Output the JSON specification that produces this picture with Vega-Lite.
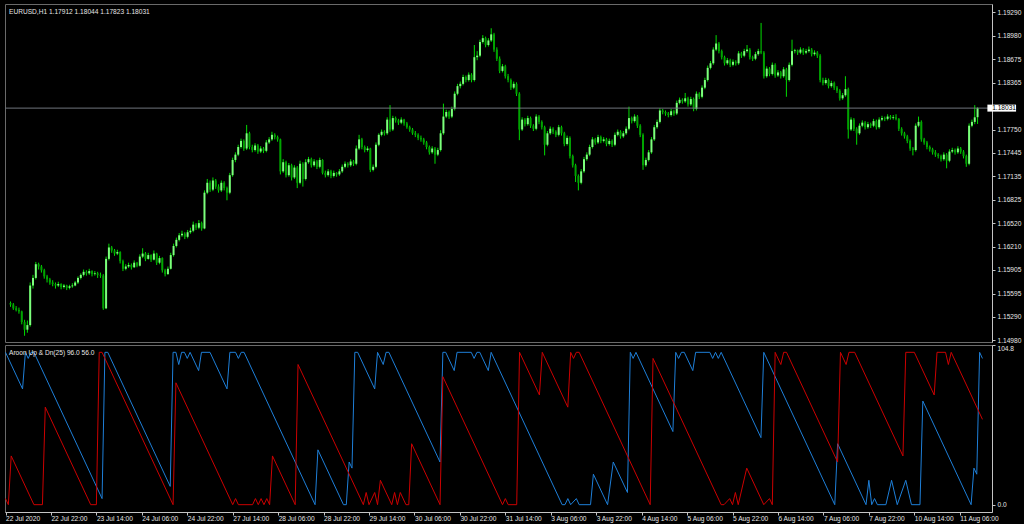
{
"$schema": "https://vega.github.io/schema/vega-lite/v6.json",
"background": "#000000",
"padding": {"left": 3, "top": 3, "right": 2, "bottom": 1},
"spacing": 3,
"bounds": "flush",
"config": {
 "view": {"stroke": "#6a6a6a", "strokeWidth": 1},
 "axis": {"labelFont": "Liberation Sans", "labelFontSize": 6.6, "labelColor": "#e6e6e6", "domainColor": "#c4c4c4", "tickColor": "#c4c4c4", "grid": false, "domainWidth": 1, "tickWidth": 1},
 "title": {"font": "Liberation Sans", "fontSize": 6.6, "fontWeight": "normal", "color": "#e6e6e6", "anchor": "start", "frame": "group", "offset": -12, "baseline": "top", "dx": 4}
},
"datasets": {
"candles": [
{"i":0,"o":1.1547,"h":1.1549,"l":1.1542,"c":1.1545},
{"i":1,"o":1.1545,"h":1.1547,"l":1.1538,"c":1.154},
{"i":2,"o":1.154,"h":1.1543,"l":1.1536,"c":1.1538},
{"i":3,"o":1.1538,"h":1.1541,"l":1.1533,"c":1.1536},
{"i":4,"o":1.1536,"h":1.1537,"l":1.1519,"c":1.1522},
{"i":5,"o":1.1522,"h":1.1525,"l":1.1504,"c":1.1512},
{"i":6,"o":1.1512,"h":1.1524,"l":1.1508,"c":1.1518},
{"i":7,"o":1.1518,"h":1.1574,"l":1.1516,"c":1.157},
{"i":8,"o":1.157,"h":1.1584,"l":1.1566,"c":1.158},
{"i":9,"o":1.158,"h":1.1601,"l":1.1578,"c":1.1598},
{"i":10,"o":1.1598,"h":1.16,"l":1.1591,"c":1.1595},
{"i":11,"o":1.1595,"h":1.1597,"l":1.1587,"c":1.159},
{"i":12,"o":1.159,"h":1.1592,"l":1.1579,"c":1.1582},
{"i":13,"o":1.1582,"h":1.1584,"l":1.1574,"c":1.1578},
{"i":14,"o":1.1578,"h":1.158,"l":1.1571,"c":1.1574},
{"i":15,"o":1.1574,"h":1.1577,"l":1.1569,"c":1.1572},
{"i":16,"o":1.1572,"h":1.1574,"l":1.1566,"c":1.157},
{"i":17,"o":1.157,"h":1.1575,"l":1.1568,"c":1.1572},
{"i":18,"o":1.1572,"h":1.1573,"l":1.1565,"c":1.1568},
{"i":19,"o":1.1568,"h":1.1572,"l":1.1566,"c":1.157},
{"i":20,"o":1.157,"h":1.1571,"l":1.1564,"c":1.1567},
{"i":21,"o":1.1567,"h":1.1571,"l":1.1565,"c":1.1569},
{"i":22,"o":1.1569,"h":1.1573,"l":1.1567,"c":1.157},
{"i":23,"o":1.157,"h":1.1576,"l":1.1569,"c":1.1574},
{"i":24,"o":1.1574,"h":1.1582,"l":1.1572,"c":1.158},
{"i":25,"o":1.158,"h":1.1586,"l":1.1578,"c":1.1584},
{"i":26,"o":1.1584,"h":1.1591,"l":1.1582,"c":1.1588},
{"i":27,"o":1.1588,"h":1.159,"l":1.1583,"c":1.1586},
{"i":28,"o":1.1586,"h":1.1592,"l":1.1584,"c":1.1589},
{"i":29,"o":1.1589,"h":1.159,"l":1.1582,"c":1.1585},
{"i":30,"o":1.1585,"h":1.1589,"l":1.1583,"c":1.1586},
{"i":31,"o":1.1586,"h":1.1588,"l":1.158,"c":1.1584},
{"i":32,"o":1.1584,"h":1.1587,"l":1.158,"c":1.1583},
{"i":33,"o":1.1583,"h":1.1585,"l":1.1538,"c":1.154},
{"i":34,"o":1.154,"h":1.1608,"l":1.1539,"c":1.1605},
{"i":35,"o":1.1605,"h":1.1625,"l":1.1603,"c":1.162},
{"i":36,"o":1.162,"h":1.1622,"l":1.1613,"c":1.1616},
{"i":37,"o":1.1616,"h":1.1618,"l":1.1609,"c":1.1612},
{"i":38,"o":1.1612,"h":1.1617,"l":1.161,"c":1.1614},
{"i":39,"o":1.1614,"h":1.1615,"l":1.1599,"c":1.1602},
{"i":40,"o":1.1602,"h":1.1604,"l":1.1589,"c":1.1592},
{"i":41,"o":1.1592,"h":1.1598,"l":1.159,"c":1.1595},
{"i":42,"o":1.1595,"h":1.16,"l":1.1593,"c":1.1597},
{"i":43,"o":1.1597,"h":1.1599,"l":1.1591,"c":1.1594},
{"i":44,"o":1.1594,"h":1.1603,"l":1.1593,"c":1.16},
{"i":45,"o":1.16,"h":1.1601,"l":1.1594,"c":1.1596},
{"i":46,"o":1.1596,"h":1.1611,"l":1.1595,"c":1.1608},
{"i":47,"o":1.1608,"h":1.1619,"l":1.1606,"c":1.1612},
{"i":48,"o":1.1612,"h":1.1614,"l":1.1602,"c":1.1605},
{"i":49,"o":1.1605,"h":1.1613,"l":1.1604,"c":1.161},
{"i":50,"o":1.161,"h":1.1611,"l":1.1601,"c":1.1604},
{"i":51,"o":1.1604,"h":1.1616,"l":1.1603,"c":1.1612},
{"i":52,"o":1.1612,"h":1.1613,"l":1.1597,"c":1.16},
{"i":53,"o":1.16,"h":1.1609,"l":1.1598,"c":1.1606},
{"i":54,"o":1.1606,"h":1.1607,"l":1.1587,"c":1.159},
{"i":55,"o":1.159,"h":1.1592,"l":1.1582,"c":1.1585},
{"i":56,"o":1.1585,"h":1.1595,"l":1.1584,"c":1.1592},
{"i":57,"o":1.1592,"h":1.1613,"l":1.1591,"c":1.161},
{"i":58,"o":1.161,"h":1.1625,"l":1.1608,"c":1.1622},
{"i":59,"o":1.1622,"h":1.1633,"l":1.162,"c":1.163},
{"i":60,"o":1.163,"h":1.1639,"l":1.1628,"c":1.1636},
{"i":61,"o":1.1636,"h":1.1642,"l":1.1634,"c":1.1638},
{"i":62,"o":1.1638,"h":1.164,"l":1.1631,"c":1.1634},
{"i":63,"o":1.1634,"h":1.1643,"l":1.1632,"c":1.164},
{"i":64,"o":1.164,"h":1.1646,"l":1.1638,"c":1.1642},
{"i":65,"o":1.1642,"h":1.1654,"l":1.164,"c":1.165},
{"i":66,"o":1.165,"h":1.1652,"l":1.1643,"c":1.1646},
{"i":67,"o":1.1646,"h":1.1656,"l":1.1644,"c":1.1652},
{"i":68,"o":1.1652,"h":1.1654,"l":1.1642,"c":1.1645},
{"i":69,"o":1.1645,"h":1.1695,"l":1.1644,"c":1.1692},
{"i":70,"o":1.1692,"h":1.171,"l":1.169,"c":1.1705},
{"i":71,"o":1.1705,"h":1.1708,"l":1.1693,"c":1.1696},
{"i":72,"o":1.1696,"h":1.1712,"l":1.1694,"c":1.1708},
{"i":73,"o":1.1708,"h":1.171,"l":1.1697,"c":1.17},
{"i":74,"o":1.17,"h":1.1703,"l":1.1692,"c":1.1695},
{"i":75,"o":1.1695,"h":1.1708,"l":1.1693,"c":1.1705},
{"i":76,"o":1.1705,"h":1.1707,"l":1.1695,"c":1.1698},
{"i":77,"o":1.1698,"h":1.17,"l":1.1682,"c":1.1692},
{"i":78,"o":1.1692,"h":1.1718,"l":1.169,"c":1.1715},
{"i":79,"o":1.1715,"h":1.1738,"l":1.1713,"c":1.1735},
{"i":80,"o":1.1735,"h":1.1745,"l":1.1732,"c":1.1742},
{"i":81,"o":1.1742,"h":1.1755,"l":1.174,"c":1.1752},
{"i":82,"o":1.1752,"h":1.1763,"l":1.175,"c":1.176},
{"i":83,"o":1.176,"h":1.1762,"l":1.1747,"c":1.175},
{"i":84,"o":1.175,"h":1.1781,"l":1.1748,"c":1.177},
{"i":85,"o":1.177,"h":1.1772,"l":1.1749,"c":1.1752},
{"i":86,"o":1.1752,"h":1.1755,"l":1.1745,"c":1.1748},
{"i":87,"o":1.1748,"h":1.1757,"l":1.1746,"c":1.1754},
{"i":88,"o":1.1754,"h":1.1756,"l":1.1743,"c":1.1746},
{"i":89,"o":1.1746,"h":1.1753,"l":1.1744,"c":1.175},
{"i":90,"o":1.175,"h":1.1752,"l":1.1744,"c":1.1747},
{"i":91,"o":1.1747,"h":1.1761,"l":1.1745,"c":1.1758},
{"i":92,"o":1.1758,"h":1.1765,"l":1.1756,"c":1.1762},
{"i":93,"o":1.1762,"h":1.1772,"l":1.176,"c":1.1768},
{"i":94,"o":1.1768,"h":1.177,"l":1.1762,"c":1.1765},
{"i":95,"o":1.1765,"h":1.1767,"l":1.1759,"c":1.1762},
{"i":96,"o":1.1762,"h":1.1763,"l":1.1716,"c":1.172},
{"i":97,"o":1.172,"h":1.1736,"l":1.1718,"c":1.1732},
{"i":98,"o":1.1732,"h":1.1734,"l":1.1712,"c":1.1715},
{"i":99,"o":1.1715,"h":1.1731,"l":1.1713,"c":1.1728},
{"i":100,"o":1.1728,"h":1.173,"l":1.1708,"c":1.1712},
{"i":101,"o":1.1712,"h":1.1728,"l":1.171,"c":1.1725},
{"i":102,"o":1.1725,"h":1.1727,"l":1.1698,"c":1.1705},
{"i":103,"o":1.1705,"h":1.1734,"l":1.1703,"c":1.173},
{"i":104,"o":1.173,"h":1.1732,"l":1.17,"c":1.171},
{"i":105,"o":1.171,"h":1.1736,"l":1.1708,"c":1.1732},
{"i":106,"o":1.1732,"h":1.1739,"l":1.173,"c":1.1736},
{"i":107,"o":1.1736,"h":1.1738,"l":1.1725,"c":1.1728},
{"i":108,"o":1.1728,"h":1.1736,"l":1.1726,"c":1.1733},
{"i":109,"o":1.1733,"h":1.1735,"l":1.1723,"c":1.1726},
{"i":110,"o":1.1726,"h":1.1738,"l":1.1724,"c":1.1735},
{"i":111,"o":1.1735,"h":1.1736,"l":1.1716,"c":1.1718},
{"i":112,"o":1.1718,"h":1.1721,"l":1.1712,"c":1.1715},
{"i":113,"o":1.1715,"h":1.1723,"l":1.1713,"c":1.172},
{"i":114,"o":1.172,"h":1.1722,"l":1.1711,"c":1.1714},
{"i":115,"o":1.1714,"h":1.1721,"l":1.1712,"c":1.1718},
{"i":116,"o":1.1718,"h":1.1719,"l":1.1713,"c":1.1716},
{"i":117,"o":1.1716,"h":1.1723,"l":1.1714,"c":1.172},
{"i":118,"o":1.172,"h":1.1729,"l":1.1718,"c":1.1726},
{"i":119,"o":1.1726,"h":1.1733,"l":1.1724,"c":1.173},
{"i":120,"o":1.173,"h":1.1732,"l":1.1725,"c":1.1728},
{"i":121,"o":1.1728,"h":1.1736,"l":1.1726,"c":1.1733},
{"i":122,"o":1.1733,"h":1.1735,"l":1.1727,"c":1.173},
{"i":123,"o":1.173,"h":1.1754,"l":1.1728,"c":1.175},
{"i":124,"o":1.175,"h":1.1768,"l":1.1748,"c":1.1762},
{"i":125,"o":1.1762,"h":1.1764,"l":1.1749,"c":1.1752},
{"i":126,"o":1.1752,"h":1.1754,"l":1.1745,"c":1.1748},
{"i":127,"o":1.1748,"h":1.1753,"l":1.1746,"c":1.175},
{"i":128,"o":1.175,"h":1.1751,"l":1.1719,"c":1.1722},
{"i":129,"o":1.1722,"h":1.1729,"l":1.172,"c":1.1726},
{"i":130,"o":1.1726,"h":1.1758,"l":1.1724,"c":1.1755},
{"i":131,"o":1.1755,"h":1.177,"l":1.1753,"c":1.1768},
{"i":132,"o":1.1768,"h":1.1775,"l":1.1766,"c":1.1772},
{"i":133,"o":1.1772,"h":1.1774,"l":1.1767,"c":1.177},
{"i":134,"o":1.177,"h":1.1791,"l":1.1768,"c":1.1788},
{"i":135,"o":1.1788,"h":1.1807,"l":1.1772,"c":1.1775},
{"i":136,"o":1.1775,"h":1.1793,"l":1.1773,"c":1.179},
{"i":137,"o":1.179,"h":1.1792,"l":1.1784,"c":1.1787},
{"i":138,"o":1.1787,"h":1.1789,"l":1.1781,"c":1.1784},
{"i":139,"o":1.1784,"h":1.1791,"l":1.1782,"c":1.1788},
{"i":140,"o":1.1788,"h":1.1789,"l":1.178,"c":1.1783},
{"i":141,"o":1.1783,"h":1.1785,"l":1.1776,"c":1.1778},
{"i":142,"o":1.1778,"h":1.178,"l":1.1772,"c":1.1775},
{"i":143,"o":1.1775,"h":1.1777,"l":1.1768,"c":1.177},
{"i":144,"o":1.177,"h":1.1773,"l":1.1765,"c":1.1768},
{"i":145,"o":1.1768,"h":1.177,"l":1.1761,"c":1.1764},
{"i":146,"o":1.1764,"h":1.1767,"l":1.1759,"c":1.1762},
{"i":147,"o":1.1762,"h":1.1764,"l":1.1755,"c":1.1758},
{"i":148,"o":1.1758,"h":1.176,"l":1.1749,"c":1.1752},
{"i":149,"o":1.1752,"h":1.1754,"l":1.1742,"c":1.1745},
{"i":150,"o":1.1745,"h":1.1753,"l":1.1743,"c":1.175},
{"i":151,"o":1.175,"h":1.1752,"l":1.173,"c":1.1742},
{"i":152,"o":1.1742,"h":1.1751,"l":1.174,"c":1.1748},
{"i":153,"o":1.1748,"h":1.1774,"l":1.1746,"c":1.177},
{"i":154,"o":1.177,"h":1.1809,"l":1.1768,"c":1.1792},
{"i":155,"o":1.1792,"h":1.1801,"l":1.179,"c":1.1798},
{"i":156,"o":1.1798,"h":1.18,"l":1.1789,"c":1.1792},
{"i":157,"o":1.1792,"h":1.1805,"l":1.179,"c":1.1802},
{"i":158,"o":1.1802,"h":1.1825,"l":1.18,"c":1.1822},
{"i":159,"o":1.1822,"h":1.1835,"l":1.182,"c":1.1832},
{"i":160,"o":1.1832,"h":1.1838,"l":1.1829,"c":1.1835},
{"i":161,"o":1.1835,"h":1.1847,"l":1.1833,"c":1.1844},
{"i":162,"o":1.1844,"h":1.1846,"l":1.1837,"c":1.184},
{"i":163,"o":1.184,"h":1.185,"l":1.1838,"c":1.1847},
{"i":164,"o":1.1847,"h":1.1849,"l":1.1837,"c":1.184},
{"i":165,"o":1.184,"h":1.1886,"l":1.1838,"c":1.187},
{"i":166,"o":1.187,"h":1.1878,"l":1.1866,"c":1.1872},
{"i":167,"o":1.1872,"h":1.1893,"l":1.187,"c":1.189},
{"i":168,"o":1.189,"h":1.1899,"l":1.1888,"c":1.1895},
{"i":169,"o":1.1895,"h":1.1897,"l":1.1883,"c":1.1886},
{"i":170,"o":1.1886,"h":1.1895,"l":1.1884,"c":1.1892},
{"i":171,"o":1.1892,"h":1.1908,"l":1.189,"c":1.19},
{"i":172,"o":1.19,"h":1.1902,"l":1.1877,"c":1.188},
{"i":173,"o":1.188,"h":1.1883,"l":1.1865,"c":1.1868},
{"i":174,"o":1.1868,"h":1.1871,"l":1.1849,"c":1.1852},
{"i":175,"o":1.1852,"h":1.1861,"l":1.185,"c":1.1858},
{"i":176,"o":1.1858,"h":1.186,"l":1.1842,"c":1.1845},
{"i":177,"o":1.1845,"h":1.1848,"l":1.1837,"c":1.184},
{"i":178,"o":1.184,"h":1.1842,"l":1.1827,"c":1.183},
{"i":179,"o":1.183,"h":1.1838,"l":1.1828,"c":1.1835},
{"i":180,"o":1.1835,"h":1.1837,"l":1.1819,"c":1.1822},
{"i":181,"o":1.1822,"h":1.1824,"l":1.1761,"c":1.1775},
{"i":182,"o":1.1775,"h":1.1791,"l":1.1773,"c":1.1788},
{"i":183,"o":1.1788,"h":1.179,"l":1.1779,"c":1.1782},
{"i":184,"o":1.1782,"h":1.1793,"l":1.178,"c":1.179},
{"i":185,"o":1.179,"h":1.1792,"l":1.1777,"c":1.178},
{"i":186,"o":1.178,"h":1.1782,"l":1.1773,"c":1.1776},
{"i":187,"o":1.1776,"h":1.1795,"l":1.1774,"c":1.1792},
{"i":188,"o":1.1792,"h":1.1794,"l":1.1782,"c":1.1785},
{"i":189,"o":1.1785,"h":1.1787,"l":1.1775,"c":1.1778},
{"i":190,"o":1.1778,"h":1.178,"l":1.1741,"c":1.1755},
{"i":191,"o":1.1755,"h":1.1773,"l":1.1753,"c":1.177},
{"i":192,"o":1.177,"h":1.1779,"l":1.1768,"c":1.1776},
{"i":193,"o":1.1776,"h":1.1778,"l":1.1769,"c":1.1772},
{"i":194,"o":1.1772,"h":1.1774,"l":1.1765,"c":1.1768},
{"i":195,"o":1.1768,"h":1.1781,"l":1.1766,"c":1.1778},
{"i":196,"o":1.1778,"h":1.178,"l":1.1767,"c":1.177},
{"i":197,"o":1.177,"h":1.1772,"l":1.1753,"c":1.1756},
{"i":198,"o":1.1756,"h":1.1767,"l":1.1754,"c":1.1764},
{"i":199,"o":1.1764,"h":1.1766,"l":1.1737,"c":1.174},
{"i":200,"o":1.174,"h":1.1742,"l":1.1725,"c":1.1728},
{"i":201,"o":1.1728,"h":1.173,"l":1.1706,"c":1.1714},
{"i":202,"o":1.1714,"h":1.1716,"l":1.1695,"c":1.1705},
{"i":203,"o":1.1705,"h":1.1723,"l":1.1703,"c":1.172},
{"i":204,"o":1.172,"h":1.1739,"l":1.1718,"c":1.1736},
{"i":205,"o":1.1736,"h":1.1745,"l":1.1734,"c":1.1742},
{"i":206,"o":1.1742,"h":1.1755,"l":1.174,"c":1.1752},
{"i":207,"o":1.1752,"h":1.1765,"l":1.175,"c":1.1762},
{"i":208,"o":1.1762,"h":1.1764,"l":1.1755,"c":1.1758},
{"i":209,"o":1.1758,"h":1.1768,"l":1.1756,"c":1.1765},
{"i":210,"o":1.1765,"h":1.1767,"l":1.1757,"c":1.176},
{"i":211,"o":1.176,"h":1.1765,"l":1.1758,"c":1.1762},
{"i":212,"o":1.1762,"h":1.1764,"l":1.1753,"c":1.1756},
{"i":213,"o":1.1756,"h":1.1763,"l":1.1754,"c":1.176},
{"i":214,"o":1.176,"h":1.1762,"l":1.1752,"c":1.1755},
{"i":215,"o":1.1755,"h":1.1771,"l":1.1753,"c":1.1768},
{"i":216,"o":1.1768,"h":1.1775,"l":1.1766,"c":1.1772},
{"i":217,"o":1.1772,"h":1.1774,"l":1.1763,"c":1.1766},
{"i":218,"o":1.1766,"h":1.1773,"l":1.1764,"c":1.177},
{"i":219,"o":1.177,"h":1.1779,"l":1.1768,"c":1.1776},
{"i":220,"o":1.1776,"h":1.1805,"l":1.1774,"c":1.179},
{"i":221,"o":1.179,"h":1.1792,"l":1.1783,"c":1.1786},
{"i":222,"o":1.1786,"h":1.1795,"l":1.1784,"c":1.1792},
{"i":223,"o":1.1792,"h":1.1794,"l":1.1777,"c":1.178},
{"i":224,"o":1.178,"h":1.1782,"l":1.1765,"c":1.1768},
{"i":225,"o":1.1768,"h":1.177,"l":1.1722,"c":1.1728},
{"i":226,"o":1.1728,"h":1.1738,"l":1.1726,"c":1.1735},
{"i":227,"o":1.1735,"h":1.1748,"l":1.1733,"c":1.1745},
{"i":228,"o":1.1745,"h":1.1765,"l":1.1743,"c":1.1762},
{"i":229,"o":1.1762,"h":1.1781,"l":1.176,"c":1.1778},
{"i":230,"o":1.1778,"h":1.1788,"l":1.1776,"c":1.1785},
{"i":231,"o":1.1785,"h":1.1803,"l":1.1783,"c":1.18},
{"i":232,"o":1.18,"h":1.1802,"l":1.1795,"c":1.1798},
{"i":233,"o":1.1798,"h":1.18,"l":1.1793,"c":1.1796},
{"i":234,"o":1.1796,"h":1.1798,"l":1.1791,"c":1.1794},
{"i":235,"o":1.1794,"h":1.1802,"l":1.1792,"c":1.1799},
{"i":236,"o":1.1799,"h":1.1801,"l":1.1793,"c":1.1796},
{"i":237,"o":1.1796,"h":1.1813,"l":1.1794,"c":1.181},
{"i":238,"o":1.181,"h":1.1817,"l":1.1808,"c":1.1814},
{"i":239,"o":1.1814,"h":1.1816,"l":1.1809,"c":1.1812},
{"i":240,"o":1.1812,"h":1.1823,"l":1.181,"c":1.1816},
{"i":241,"o":1.1816,"h":1.1818,"l":1.1805,"c":1.1808},
{"i":242,"o":1.1808,"h":1.1818,"l":1.1806,"c":1.1815},
{"i":243,"o":1.1815,"h":1.1817,"l":1.1799,"c":1.1802},
{"i":244,"o":1.1802,"h":1.1825,"l":1.18,"c":1.1822},
{"i":245,"o":1.1822,"h":1.1824,"l":1.1815,"c":1.1818},
{"i":246,"o":1.1818,"h":1.1833,"l":1.1816,"c":1.183},
{"i":247,"o":1.183,"h":1.1843,"l":1.1828,"c":1.184},
{"i":248,"o":1.184,"h":1.1859,"l":1.1838,"c":1.1856},
{"i":249,"o":1.1856,"h":1.1865,"l":1.1854,"c":1.1862},
{"i":250,"o":1.1862,"h":1.1883,"l":1.186,"c":1.188},
{"i":251,"o":1.188,"h":1.1899,"l":1.1878,"c":1.1888},
{"i":252,"o":1.1888,"h":1.189,"l":1.1875,"c":1.1878},
{"i":253,"o":1.1878,"h":1.188,"l":1.1867,"c":1.187},
{"i":254,"o":1.187,"h":1.1872,"l":1.1859,"c":1.1862},
{"i":255,"o":1.1862,"h":1.1869,"l":1.186,"c":1.1866},
{"i":256,"o":1.1866,"h":1.1868,"l":1.1857,"c":1.186},
{"i":257,"o":1.186,"h":1.1867,"l":1.1858,"c":1.1864},
{"i":258,"o":1.1864,"h":1.1866,"l":1.1859,"c":1.1862},
{"i":259,"o":1.1862,"h":1.1878,"l":1.186,"c":1.1875},
{"i":260,"o":1.1875,"h":1.1877,"l":1.1869,"c":1.1872},
{"i":261,"o":1.1872,"h":1.1881,"l":1.187,"c":1.1878},
{"i":262,"o":1.1878,"h":1.1886,"l":1.1876,"c":1.188},
{"i":263,"o":1.188,"h":1.1882,"l":1.1867,"c":1.187},
{"i":264,"o":1.187,"h":1.1872,"l":1.1865,"c":1.1868},
{"i":265,"o":1.1868,"h":1.1877,"l":1.1866,"c":1.1874},
{"i":266,"o":1.1874,"h":1.1881,"l":1.1872,"c":1.1878},
{"i":267,"o":1.1878,"h":1.1915,"l":1.1874,"c":1.1876},
{"i":268,"o":1.1876,"h":1.1878,"l":1.1842,"c":1.1845},
{"i":269,"o":1.1845,"h":1.1858,"l":1.1843,"c":1.1855},
{"i":270,"o":1.1855,"h":1.1857,"l":1.1845,"c":1.1848},
{"i":271,"o":1.1848,"h":1.1863,"l":1.1846,"c":1.186},
{"i":272,"o":1.186,"h":1.1862,"l":1.1843,"c":1.1846},
{"i":273,"o":1.1846,"h":1.1853,"l":1.1844,"c":1.185},
{"i":274,"o":1.185,"h":1.1852,"l":1.1842,"c":1.1845},
{"i":275,"o":1.1845,"h":1.1857,"l":1.1843,"c":1.1854},
{"i":276,"o":1.1854,"h":1.1856,"l":1.1818,"c":1.184},
{"i":277,"o":1.184,"h":1.1863,"l":1.1838,"c":1.186},
{"i":278,"o":1.186,"h":1.1893,"l":1.1858,"c":1.1878},
{"i":279,"o":1.1878,"h":1.1881,"l":1.1875,"c":1.1879},
{"i":280,"o":1.1879,"h":1.188,"l":1.1873,"c":1.1876},
{"i":281,"o":1.1876,"h":1.1883,"l":1.1874,"c":1.188},
{"i":282,"o":1.188,"h":1.1882,"l":1.1873,"c":1.1876},
{"i":283,"o":1.1876,"h":1.1881,"l":1.1874,"c":1.1878},
{"i":284,"o":1.1878,"h":1.1884,"l":1.1876,"c":1.188},
{"i":285,"o":1.188,"h":1.1882,"l":1.1871,"c":1.1874},
{"i":286,"o":1.1874,"h":1.1879,"l":1.1872,"c":1.1876},
{"i":287,"o":1.1876,"h":1.1878,"l":1.1869,"c":1.1872},
{"i":288,"o":1.1872,"h":1.1874,"l":1.1837,"c":1.184},
{"i":289,"o":1.184,"h":1.1843,"l":1.1833,"c":1.1836},
{"i":290,"o":1.1836,"h":1.1843,"l":1.1834,"c":1.184},
{"i":291,"o":1.184,"h":1.1842,"l":1.1829,"c":1.1832},
{"i":292,"o":1.1832,"h":1.1839,"l":1.183,"c":1.1836},
{"i":293,"o":1.1836,"h":1.1838,"l":1.1827,"c":1.183},
{"i":294,"o":1.183,"h":1.1832,"l":1.1823,"c":1.1826},
{"i":295,"o":1.1826,"h":1.1828,"l":1.1813,"c":1.1816},
{"i":296,"o":1.1816,"h":1.1823,"l":1.1814,"c":1.182},
{"i":297,"o":1.182,"h":1.1845,"l":1.1818,"c":1.1828},
{"i":298,"o":1.1828,"h":1.183,"l":1.1763,"c":1.1775},
{"i":299,"o":1.1775,"h":1.1791,"l":1.1773,"c":1.1788},
{"i":300,"o":1.1788,"h":1.179,"l":1.1773,"c":1.1776},
{"i":301,"o":1.1776,"h":1.1778,"l":1.1755,"c":1.177},
{"i":302,"o":1.177,"h":1.1783,"l":1.1768,"c":1.178},
{"i":303,"o":1.178,"h":1.1787,"l":1.1778,"c":1.1784},
{"i":304,"o":1.1784,"h":1.1786,"l":1.1775,"c":1.1778},
{"i":305,"o":1.1778,"h":1.1785,"l":1.1776,"c":1.1782},
{"i":306,"o":1.1782,"h":1.1784,"l":1.1777,"c":1.178},
{"i":307,"o":1.178,"h":1.1789,"l":1.1778,"c":1.1786},
{"i":308,"o":1.1786,"h":1.1788,"l":1.1775,"c":1.1778},
{"i":309,"o":1.1778,"h":1.1791,"l":1.1776,"c":1.1788},
{"i":310,"o":1.1788,"h":1.1793,"l":1.1786,"c":1.179},
{"i":311,"o":1.179,"h":1.1792,"l":1.1786,"c":1.1789},
{"i":312,"o":1.1789,"h":1.1795,"l":1.1787,"c":1.1792},
{"i":313,"o":1.1792,"h":1.1794,"l":1.1788,"c":1.179},
{"i":314,"o":1.179,"h":1.1794,"l":1.1788,"c":1.1791},
{"i":315,"o":1.1791,"h":1.1795,"l":1.1787,"c":1.1789},
{"i":316,"o":1.1789,"h":1.179,"l":1.1773,"c":1.1776},
{"i":317,"o":1.1776,"h":1.1778,"l":1.1767,"c":1.177},
{"i":318,"o":1.177,"h":1.1772,"l":1.1763,"c":1.1766},
{"i":319,"o":1.1766,"h":1.1768,"l":1.1757,"c":1.176},
{"i":320,"o":1.176,"h":1.1762,"l":1.1747,"c":1.175},
{"i":321,"o":1.175,"h":1.1752,"l":1.1741,"c":1.1748},
{"i":322,"o":1.1748,"h":1.1783,"l":1.1746,"c":1.178},
{"i":323,"o":1.178,"h":1.1792,"l":1.1778,"c":1.1785},
{"i":324,"o":1.1785,"h":1.1787,"l":1.1759,"c":1.1762},
{"i":325,"o":1.1762,"h":1.1764,"l":1.1755,"c":1.1758},
{"i":326,"o":1.1758,"h":1.176,"l":1.1749,"c":1.1752},
{"i":327,"o":1.1752,"h":1.1754,"l":1.1746,"c":1.1749},
{"i":328,"o":1.1749,"h":1.1751,"l":1.1742,"c":1.1745},
{"i":329,"o":1.1745,"h":1.1748,"l":1.1739,"c":1.1742},
{"i":330,"o":1.1742,"h":1.1744,"l":1.1737,"c":1.174},
{"i":331,"o":1.174,"h":1.1742,"l":1.1733,"c":1.1736},
{"i":332,"o":1.1736,"h":1.1745,"l":1.1734,"c":1.1742},
{"i":333,"o":1.1742,"h":1.1744,"l":1.1724,"c":1.1734},
{"i":334,"o":1.1734,"h":1.1749,"l":1.1732,"c":1.1746},
{"i":335,"o":1.1746,"h":1.1751,"l":1.1744,"c":1.1748},
{"i":336,"o":1.1748,"h":1.175,"l":1.1742,"c":1.1745},
{"i":337,"o":1.1745,"h":1.1753,"l":1.1743,"c":1.175},
{"i":338,"o":1.175,"h":1.1752,"l":1.1743,"c":1.1746},
{"i":339,"o":1.1746,"h":1.1748,"l":1.1737,"c":1.174},
{"i":340,"o":1.174,"h":1.1742,"l":1.1726,"c":1.173},
{"i":341,"o":1.173,"h":1.1783,"l":1.1728,"c":1.178},
{"i":342,"o":1.178,"h":1.1788,"l":1.1778,"c":1.1785},
{"i":343,"o":1.1785,"h":1.1807,"l":1.1782,"c":1.1791},
{"i":344,"o":1.17912,"h":1.18044,"l":1.17823,"c":1.18031}
],
"up": [
{"i":0,"v":100},{"i":6,"v":76},{"i":7,"v":100},{"i":8,"v":96},{"i":9,"v":100},{"i":10,"v":100},{"i":34,"v":4},{"i":35,"v":100},{"i":36,"v":100},{"i":58,"v":12},{"i":59,"v":100},{"i":60,"v":100},{"i":61,"v":92},{"i":62,"v":100},{"i":63,"v":100},{"i":64,"v":96},{"i":65,"v":100},{"i":68,"v":88},{"i":69,"v":100},{"i":72,"v":100},{"i":78,"v":76},{"i":79,"v":100},{"i":81,"v":100},{"i":82,"v":96},{"i":83,"v":100},{"i":84,"v":100},{"i":109,"v":0},{"i":110,"v":36},{"i":119,"v":0},{"i":120,"v":0},{"i":121,"v":28},{"i":122,"v":24},{"i":123,"v":100},{"i":124,"v":100},{"i":130,"v":76},{"i":131,"v":100},{"i":133,"v":92},{"i":134,"v":100},{"i":135,"v":100},{"i":153,"v":28},{"i":154,"v":100},{"i":155,"v":100},{"i":158,"v":88},{"i":159,"v":100},{"i":164,"v":100},{"i":165,"v":96},{"i":166,"v":100},{"i":167,"v":100},{"i":170,"v":88},{"i":171,"v":100},{"i":196,"v":0},{"i":197,"v":0},{"i":198,"v":4},{"i":199,"v":0},{"i":201,"v":4},{"i":202,"v":0},{"i":206,"v":0},{"i":207,"v":20},{"i":212,"v":0},{"i":214,"v":28},{"i":219,"v":8},{"i":220,"v":100},{"i":221,"v":96},{"i":222,"v":100},{"i":235,"v":48},{"i":236,"v":100},{"i":237,"v":96},{"i":238,"v":100},{"i":239,"v":100},{"i":242,"v":88},{"i":243,"v":100},{"i":248,"v":100},{"i":249,"v":96},{"i":250,"v":100},{"i":251,"v":96},{"i":252,"v":100},{"i":266,"v":44},{"i":267,"v":100},{"i":292,"v":0},{"i":293,"v":40},{"i":303,"v":0},{"i":304,"v":16},{"i":305,"v":0},{"i":306,"v":4},{"i":307,"v":0},{"i":310,"v":0},{"i":312,"v":16},{"i":314,"v":0},{"i":317,"v":16},{"i":319,"v":0},{"i":322,"v":0},{"i":323,"v":68},{"i":340,"v":0},{"i":341,"v":24},{"i":342,"v":20},{"i":343,"v":100},{"i":344,"v":96}
],
"dn": [
{"i":0,"v":4},{"i":1,"v":0},{"i":2,"v":32},{"i":10,"v":0},{"i":13,"v":0},{"i":14,"v":64},{"i":30,"v":0},{"i":32,"v":0},{"i":33,"v":100},{"i":34,"v":100},{"i":59,"v":0},{"i":60,"v":80},{"i":80,"v":0},{"i":81,"v":4},{"i":82,"v":0},{"i":87,"v":0},{"i":88,"v":4},{"i":89,"v":0},{"i":90,"v":4},{"i":91,"v":0},{"i":92,"v":4},{"i":93,"v":0},{"i":94,"v":32},{"i":102,"v":0},{"i":103,"v":92},{"i":126,"v":0},{"i":127,"v":8},{"i":128,"v":0},{"i":130,"v":8},{"i":131,"v":0},{"i":132,"v":16},{"i":136,"v":0},{"i":137,"v":8},{"i":138,"v":0},{"i":139,"v":8},{"i":141,"v":0},{"i":142,"v":0},{"i":143,"v":40},{"i":153,"v":0},{"i":154,"v":84},{"i":175,"v":0},{"i":176,"v":4},{"i":177,"v":0},{"i":180,"v":0},{"i":181,"v":100},{"i":188,"v":72},{"i":189,"v":100},{"i":198,"v":64},{"i":199,"v":100},{"i":200,"v":96},{"i":201,"v":100},{"i":202,"v":100},{"i":227,"v":0},{"i":228,"v":96},{"i":252,"v":0},{"i":253,"v":0},{"i":255,"v":4},{"i":256,"v":0},{"i":257,"v":8},{"i":258,"v":0},{"i":261,"v":24},{"i":267,"v":0},{"i":269,"v":4},{"i":270,"v":0},{"i":271,"v":100},{"i":273,"v":92},{"i":274,"v":100},{"i":275,"v":100},{"i":293,"v":28},{"i":294,"v":100},{"i":296,"v":92},{"i":297,"v":100},{"i":299,"v":100},{"i":316,"v":32},{"i":317,"v":100},{"i":320,"v":100},{"i":327,"v":72},{"i":328,"v":100},{"i":331,"v":100},{"i":332,"v":92},{"i":333,"v":100},{"i":344,"v":56}
]
},
"vconcat": [
{
 "width": 987,
 "height": 338,
 "title": {"text": "EURUSD,H1  1.17912 1.18044 1.17823 1.18031"},
 "layer": [
  {
   "data": {"name": "candles"},
   "mark": {"type": "rule", "color": "#00dc00", "strokeWidth": 1},
   "encoding": {
    "x": {"field": "i", "type": "quantitative", "scale": {"domain": [-0.18, 347.36], "nice": false, "zero": false}, "axis": null},
    "y": {"field": "l", "type": "quantitative", "scale": {"domain": [1.14958, 1.19399], "nice": false, "zero": false},
          "axis": {"orient": "right", "title": null, "values": [1.1498, 1.1529, 1.15595, 1.15905, 1.1621, 1.1652, 1.16825, 1.17135, 1.17445, 1.1775, 1.18365, 1.18675, 1.1898, 1.1929], "format": ".5f", "tickSize": 3, "labelPadding": 2, "labelOverlap": false}},
    "y2": {"field": "h"}
   }
  },
  {
   "data": {"name": "candles"},
   "mark": {"type": "bar", "size": 2},
   "encoding": {
    "x": {"field": "i", "type": "quantitative", "scale": {"domain": [-0.18, 347.36], "nice": false, "zero": false}, "axis": null},
    "y": {"field": "o", "type": "quantitative", "scale": {"domain": [1.14958, 1.19399], "nice": false, "zero": false},
          "axis": {"orient": "right", "title": null, "values": [1.1498, 1.1529, 1.15595, 1.15905, 1.1621, 1.1652, 1.16825, 1.17135, 1.17445, 1.1775, 1.18365, 1.18675, 1.1898, 1.1929], "format": ".5f", "tickSize": 3, "labelPadding": 2, "labelOverlap": false}},
    "y2": {"field": "c"},
    "color": {"condition": {"test": "datum.c >= datum.o", "value": "#7cff7c"}, "value": "#00a400"}
   }
  },
  {
   "data": {"values": [{}]},
   "mark": {"type": "rule", "color": "#70757d", "strokeWidth": 1},
   "encoding": {
    "y": {"datum": 1.18031, "type": "quantitative", "scale": {"domain": [1.14958, 1.19399], "nice": false, "zero": false},
          "axis": {"orient": "right", "title": null, "values": [1.1498, 1.1529, 1.15595, 1.15905, 1.1621, 1.1652, 1.16825, 1.17135, 1.17445, 1.1775, 1.18365, 1.18675, 1.1898, 1.1929], "format": ".5f", "tickSize": 3, "labelPadding": 2, "labelOverlap": false}}
   }
  },
  {
   "data": {"values": [{}]},
   "mark": {"type": "rect", "color": "#ffffff", "clip": false},
   "encoding": {
    "x": {"datum": 347.5, "type": "quantitative", "scale": {"domain": [-0.18, 347.36], "nice": false, "zero": false}, "axis": null},
    "x2": {"datum": 357.7},
    "y": {"datum": 1.17985, "type": "quantitative", "scale": {"domain": [1.14958, 1.19399], "nice": false, "zero": false},
          "axis": {"orient": "right", "title": null, "values": [1.1498, 1.1529, 1.15595, 1.15905, 1.1621, 1.1652, 1.16825, 1.17135, 1.17445, 1.1775, 1.18365, 1.18675, 1.1898, 1.1929], "format": ".5f", "tickSize": 3, "labelPadding": 2, "labelOverlap": false}},
    "y2": {"datum": 1.18077}
   }
  },
  {
   "data": {"values": [{}]},
   "mark": {"type": "text", "color": "#000000", "font": "Liberation Sans", "fontSize": 6.6, "align": "left", "baseline": "middle", "clip": false},
   "encoding": {
    "x": {"datum": 349.2, "type": "quantitative", "scale": {"domain": [-0.18, 347.36], "nice": false, "zero": false}, "axis": null},
    "y": {"datum": 1.18031, "type": "quantitative", "scale": {"domain": [1.14958, 1.19399], "nice": false, "zero": false},
          "axis": {"orient": "right", "title": null, "values": [1.1498, 1.1529, 1.15595, 1.15905, 1.1621, 1.1652, 1.16825, 1.17135, 1.17445, 1.1775, 1.18365, 1.18675, 1.1898, 1.1929], "format": ".5f", "tickSize": 3, "labelPadding": 2, "labelOverlap": false}},
    "text": {"value": "1.18031"}
   }
  }
 ]
},
{
 "width": 987,
 "height": 167,
 "title": {"text": "Aroon Up & Dn(25) 96.0 56.0"},
 "layer": [
  {
   "data": {"name": "up"},
   "mark": {"type": "line", "color": "#1e7fd8", "strokeWidth": 1},
   "encoding": {
    "x": {"field": "i", "type": "quantitative", "scale": {"domain": [-0.18, 347.36], "nice": false, "zero": false},
          "axis": {"title": null, "values": [0,16,32,48,64,80,96,112,128,144,160,176,192,208,224,240,256,272,288,304,320,336], "labelExpr": "['22 Jul 2020','22 Jul 22:00','23 Jul 14:00','24 Jul 06:00','24 Jul 22:00','27 Jul 14:00','28 Jul 06:00','28 Jul 22:00','29 Jul 14:00','30 Jul 06:00','30 Jul 22:00','31 Jul 14:00','3 Aug 06:00','3 Aug 22:00','4 Aug 14:00','5 Aug 06:00','5 Aug 22:00','6 Aug 14:00','7 Aug 06:00','7 Aug 22:00','10 Aug 14:00','11 Aug 06:00'][round(datum.value/16)]", "labelAlign": "left", "tickSize": 3, "labelPadding": 0, "labelOverlap": false, "labelFlush": false}},
    "y": {"field": "v", "type": "quantitative", "scale": {"domain": [-4.8, 104.8], "nice": false, "zero": false},
          "axis": {"orient": "right", "title": null, "values": [0, 104.8], "format": ".1f", "tickSize": 3, "labelPadding": 2, "labelFlush": true, "labelOverlap": false}}
   }
  },
  {
   "data": {"name": "dn"},
   "mark": {"type": "line", "color": "#cc0000", "strokeWidth": 1},
   "encoding": {
    "x": {"field": "i", "type": "quantitative", "scale": {"domain": [-0.18, 347.36], "nice": false, "zero": false},
          "axis": {"title": null, "values": [0,16,32,48,64,80,96,112,128,144,160,176,192,208,224,240,256,272,288,304,320,336], "labelExpr": "['22 Jul 2020','22 Jul 22:00','23 Jul 14:00','24 Jul 06:00','24 Jul 22:00','27 Jul 14:00','28 Jul 06:00','28 Jul 22:00','29 Jul 14:00','30 Jul 06:00','30 Jul 22:00','31 Jul 14:00','3 Aug 06:00','3 Aug 22:00','4 Aug 14:00','5 Aug 06:00','5 Aug 22:00','6 Aug 14:00','7 Aug 06:00','7 Aug 22:00','10 Aug 14:00','11 Aug 06:00'][round(datum.value/16)]", "labelAlign": "left", "tickSize": 3, "labelPadding": 0, "labelOverlap": false, "labelFlush": false}},
    "y": {"field": "v", "type": "quantitative", "scale": {"domain": [-4.8, 104.8], "nice": false, "zero": false},
          "axis": {"orient": "right", "title": null, "values": [0, 104.8], "format": ".1f", "tickSize": 3, "labelPadding": 2, "labelFlush": true, "labelOverlap": false}}
   }
  }
 ]
}
]
}
